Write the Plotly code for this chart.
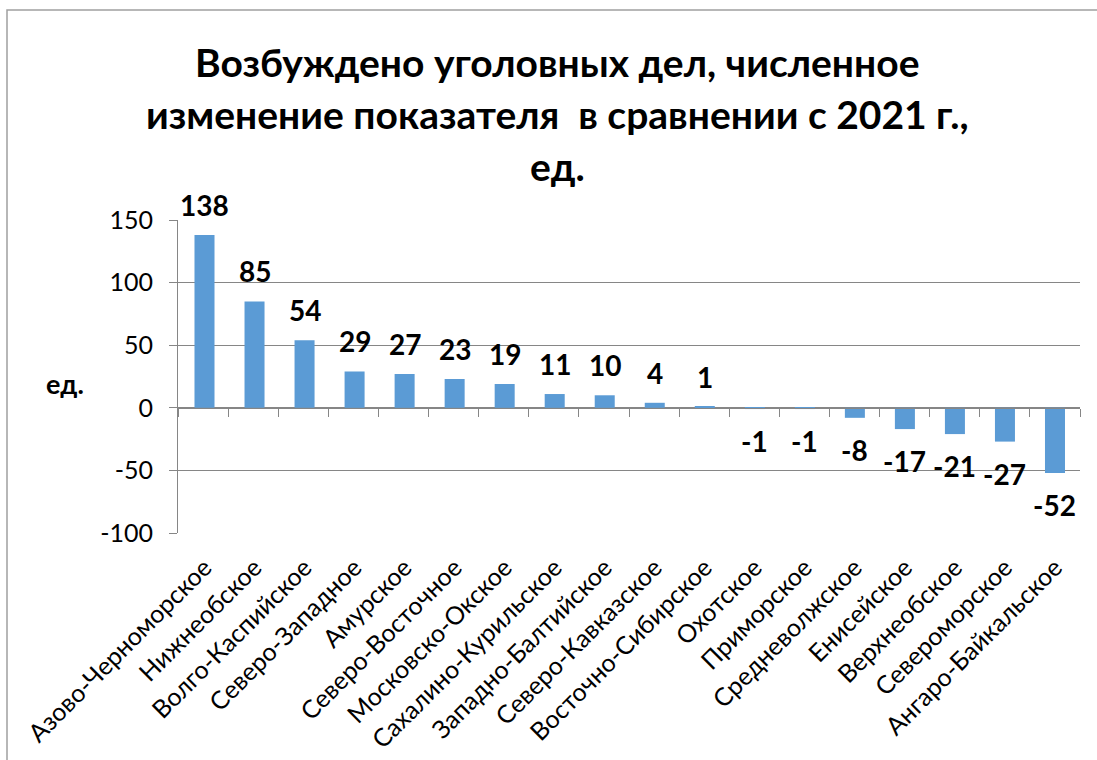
import plotly.graph_objects as go

categories = ["Азово-Черноморское", "Нижнеобское", "Волго-Каспийское", "Северо-Западное",
              "Амурское", "Северо-Восточное", "Московско-Окское", "Сахалино-Курильское",
              "Западно-Балтийское", "Северо-Кавказское", "Восточно-Сибирское", "Охотское",
              "Приморское", "Средневолжское", "Енисейское", "Верхнеобское",
              "Североморское", "Ангаро-Байкальское"]
values = [138, 85, 54, 29, 27, 23, 19, 11, 10, 4, 1, -1, -1, -8, -17, -21, -27, -52]
y_ticks = [-100, -50, 0, 50, 100, 150]
y_tick_labels = ["-100", "-50", "0", "50", "100", "150"]
title_lines = ["Возбуждено уголовных дел, численное",
               "изменение показателя  в сравнении с 2021 г.,",
               "ед."]
y_title = "ед."

FONT = "Lato"
W, H = 1097, 760
ML, MR, MT, MB = 178, 17, 220, 227
pw, ph = W - ML - MR, H - MT - MB


def px_x(x):
    return (x - ML) / pw


def px_y(y):
    return (H - MB - y) / ph


fig = go.Figure()
fig.add_trace(go.Bar(
    x=categories, y=values, width=0.4,
    marker=dict(color="#5B9BD5", line=dict(width=0)),
    hoverinfo="x+y",
))

for c, v in zip(categories, values):
    fig.add_annotation(x=c, y=v, text=f"<b>{v}</b>", showarrow=False,
                       yanchor="middle", yshift=30 if v > 0 else -32,
                       font=dict(family=FONT, size=28, color="#000000"))

n = len(categories)
fig.update_layout(
    xaxis2=dict(overlaying="x", anchor="free", position=0.4, range=[-0.5, n - 0.5],
                tickvals=[i - 0.5 for i in range(n + 1)], showticklabels=False,
                ticks="outside", ticklen=8, tickcolor="#868686", tickwidth=1,
                showline=True, linecolor="#868686", linewidth=1, showgrid=False,
                zeroline=False, side="bottom", automargin=False),
)
fig.add_trace(go.Scatter(x=[None], y=[None], xaxis="x2", showlegend=False, hoverinfo="skip"))

# outer border (top and left visible)
fig.add_shape(type="path", xref="paper", yref="paper",
              path=f"M {px_x(7)} {px_y(780)} L {px_x(7)} {px_y(10)} L {px_x(1110)} {px_y(10)}",
              line=dict(color="#A0A0A0", width=1.5))

fig.add_annotation(xref="paper", yref="paper", x=px_x(65), y=px_y(383),
                   text=f"<b>{y_title}</b>", showarrow=False, xanchor="center", yanchor="middle",
                   font=dict(family=FONT, size=27, color="#000000"))

for line, yc in zip(title_lines, [62, 114, 166]):
    fig.add_annotation(xref="paper", yref="paper", x=px_x(557), y=px_y(yc),
                       text=f"<b>{line}</b>", showarrow=False, xanchor="center", yanchor="middle",
                       font=dict(family=FONT, size=39, color="#000000"))

fig.update_layout(
    width=W, height=H,
    margin=dict(l=ML, r=MR, t=MT, b=MB),
    paper_bgcolor="#FFFFFF", plot_bgcolor="#FFFFFF",
    showlegend=False,
    xaxis=dict(type="category", tickangle=-45, showgrid=False, showline=False,
               ticks="", zeroline=False, automargin=False, ticklabelstandoff=14,
               tickfont=dict(family=FONT, size=25, color="#000000")),
    yaxis=dict(range=[-100, 150], tickvals=y_ticks, ticktext=y_tick_labels,
               showgrid=True, gridcolor="#868686",
               gridwidth=1, zeroline=False, showline=True, linecolor="#868686", linewidth=1,
               ticks="outside", ticklen=8, tickcolor="#868686", automargin=False,
               ticklabelstandoff=11,
               tickfont=dict(family=FONT, size=25, color="#000000")),
)

fig.write_html("out.html", config={"displayModeBar": False},
               post_script="document.body.style.margin='0';")
